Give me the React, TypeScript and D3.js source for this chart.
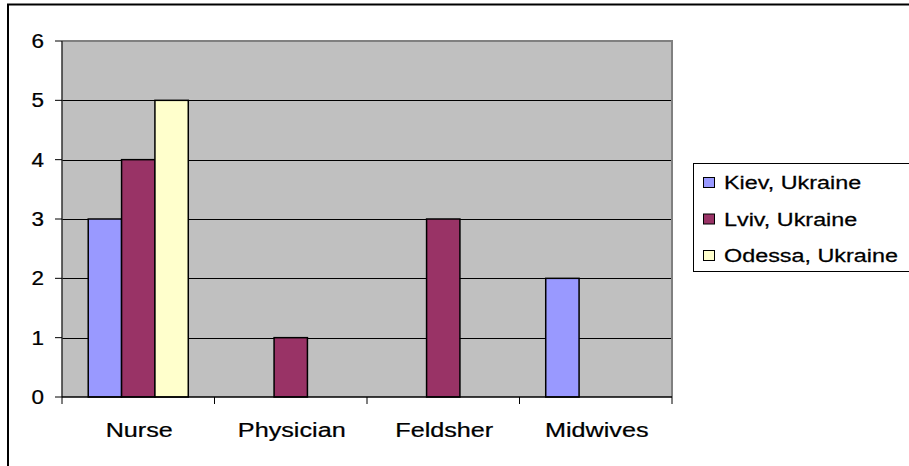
import React, { useRef, useEffect } from "react";
import * as d3 from "d3";

const categories = ["Nurse", "Physician", "Feldsher", "Midwives"];
const seriesNames = ["Kiev, Ukraine", "Lviv, Ukraine", "Odessa, Ukraine"];
const kievValues = [3, 0, 0, 2];
const lvivValues = [4, 1, 3, 0];
const odessaValues = [5, 0, 0, 0];
const yTicks = [0, 1, 2, 3, 4, 5, 6];

const colors = ["#9999FF", "#993366", "#FFFFCC"];

const App: React.FC = () => {
    const chartRef = useRef<SVGSVGElement | null>(null);

    useEffect(() => {
        const width = 909,
            height = 466;
        const plot = { left: 62, right: 672, top: 41, bottom: 397 };
        const font = "'Liberation Sans', Arial, sans-serif";

        const seriesValues = [kievValues, lvivValues, odessaValues];

        const svg = d3.select(chartRef.current).attr("width", width).attr("height", height);
        svg.selectAll("*").remove();

        // outer frame (only top and left show)
        svg.append("rect")
            .attr("x", 8)
            .attr("y", 4.5)
            .attr("width", 1000)
            .attr("height", 1000)
            .attr("fill", "#fff")
            .attr("stroke", "#000")
            .attr("stroke-width", 2);

        const y = d3.scaleLinear().domain([0, 6]).range([plot.bottom, plot.top]);
        const x0 = d3.scaleBand<string>().domain(categories).range([plot.left, plot.right]);
        const bw = x0.bandwidth();
        const groupW = bw * 0.656;
        const x1 = d3
            .scaleBand<string>()
            .domain(seriesNames)
            .range([(bw - groupW) / 2, (bw + groupW) / 2]);

        // plot area
        svg.append("rect")
            .attr("x", plot.left)
            .attr("y", plot.top)
            .attr("width", plot.right - plot.left)
            .attr("height", plot.bottom - plot.top)
            .attr("fill", "#C0C0C0");

        // gridlines
        svg.selectAll(".grid")
            .data(yTicks.filter((t) => t > 0 && t < 6))
            .enter()
            .append("line")
            .attr("x1", plot.left)
            .attr("x2", plot.right)
            .attr("y1", (d) => Math.round(y(d)) + 0.5)
            .attr("y2", (d) => Math.round(y(d)) + 0.5)
            .attr("stroke", "#000")
            .attr("stroke-width", 1);

        // plot border top/right
        svg.append("path")
            .attr("d", `M${plot.left},${plot.top}H${plot.right}V${plot.bottom}`)
            .attr("fill", "none")
            .attr("stroke", "#808080")
            .attr("stroke-width", 2);

        // bars
        seriesValues.forEach((vals, si) => {
            svg.selectAll(`.bar-${si}`)
                .data(vals.map((v, i) => ({ cat: categories[i], v })).filter((d) => d.v > 0))
                .enter()
                .append("rect")
                .attr("x", (d) => (x0(d.cat) as number) + (x1(seriesNames[si]) as number))
                .attr("y", (d) => y(d.v))
                .attr("width", x1.bandwidth())
                .attr("height", (d) => y(0) - y(d.v))
                .attr("fill", colors[si])
                .attr("stroke", "#000")
                .attr("stroke-width", 1.5);
        });

        // axes
        svg.append("line")
            .attr("x1", plot.left)
            .attr("x2", plot.left)
            .attr("y1", plot.top)
            .attr("y2", plot.bottom)
            .attr("stroke", "#303030")
            .attr("stroke-width", 1.5);
        svg.append("line")
            .attr("x1", plot.left)
            .attr("x2", plot.right)
            .attr("y1", plot.bottom)
            .attr("y2", plot.bottom)
            .attr("stroke", "#000")
            .attr("stroke-width", 1.5);

        // the picture's text is heavy and stretched sideways
        const label = (sel: d3.Selection<SVGTextElement, unknown, null, undefined>, size: number) =>
            sel
                .style("font-family", font)
                .style("font-size", `${size}px`)
                .attr("fill", "#000")
                .attr("stroke", "#000")
                .attr("stroke-width", 0.25);

        // y ticks + labels
        yTicks.forEach((t) => {
            svg.append("line")
                .attr("x1", 55)
                .attr("x2", plot.left)
                .attr("y1", y(t))
                .attr("y2", y(t))
                .attr("stroke", "#000")
                .attr("stroke-width", 1);
            label(
                svg
                    .append("text")
                    .attr("transform", `translate(44,${y(t) + 7}) scale(1.15,1)`)
                    .attr("text-anchor", "end"),
                19.5
            ).text(String(t));
        });

        // x ticks at band edges
        const edges = categories.map((c) => x0(c) as number).concat([plot.right]);
        edges.forEach((e) => {
            svg.append("line")
                .attr("x1", e)
                .attr("x2", e)
                .attr("y1", plot.bottom)
                .attr("y2", plot.bottom + 7)
                .attr("stroke", "#000")
                .attr("stroke-width", 1);
        });

        categories.forEach((c) => {
            label(
                svg
                    .append("text")
                    .attr("transform", `translate(${(x0(c) as number) + bw / 2 + 1},437) scale(1.2,1)`)
                    .attr("text-anchor", "middle"),
                21
            ).text(c);
        });

        // legend
        svg.append("rect")
            .attr("x", 693.5)
            .attr("y", 163.5)
            .attr("width", 300)
            .attr("height", 108)
            .attr("fill", "#fff")
            .attr("stroke", "#000")
            .attr("stroke-width", 1);

        seriesNames.forEach((name, i) => {
            const cy = 182.5 + i * 36.5;
            svg.append("rect")
                .attr("x", 703.5)
                .attr("y", cy - 5)
                .attr("width", 11)
                .attr("height", 10)
                .attr("fill", colors[i])
                .attr("stroke", "#000")
                .attr("stroke-width", 1);
            label(svg.append("text").attr("transform", `translate(724,${cy + 6.5}) scale(1.25,1)`), 18.7).text(
                name
            );
        });
    }, []);

    return (
        <div style={{ position: "absolute", left: 0, top: 0 }}>
            <svg ref={chartRef} style={{ display: "block" }}></svg>
        </div>
    );
};

export default App;
